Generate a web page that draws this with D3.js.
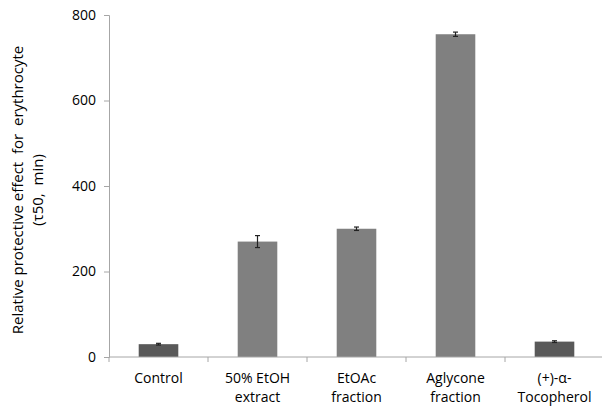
<!DOCTYPE html>
<html><head><meta charset="utf-8">
<script src="https://cdn.jsdelivr.net/npm/d3@7"></script>
<style>body{margin:0;background:#fff}svg{display:block}text{font-family:"Open Sans",sans-serif;fill:#000}</style>
</head><body><svg id="c" width="602" height="407"></svg>
<script>
const categories = [["Control"],["50% EtOH","extract"],["EtOAc","fraction"],["Aglycone","fraction"],["(+)-α-","Tocopherol"]];
const values = [30, 270, 300, 755, 36];
const errors = [2, 14, 4, 5, 2];
const barColors = ["#595959","#808080","#808080","#808080","#595959"];
const yTicks = [0,200,400,600,800];

const svg = d3.select("#c");
const x = d3.scaleBand().domain(d3.range(categories.length)).range([109, 604]).paddingInner(0.6).paddingOuter(0.3);
const y = d3.scaleLinear().domain([0,800]).range([357,15]);

// y axis
const ya = svg.append("g").attr("transform","translate(109,0)")
  .call(d3.axisLeft(y).tickValues(yTicks).tickSize(5).tickPadding(8));
ya.select(".domain").attr("stroke","#a6a6a6");
ya.selectAll(".tick line").attr("stroke","#a6a6a6");
ya.selectAll("text").attr("font-size",14).attr("fill","#000").attr("font-family","Open Sans");

// bars
svg.selectAll("rect.bar").data(values).enter().append("rect")
  .attr("x",(d,i)=>x(i)).attr("width",x.bandwidth())
  .attr("y",d=>y(d)).attr("height",d=>y(0)-y(d))
  .attr("fill",(d,i)=>barColors[i]);

// error bars
const eb = svg.selectAll("g.err").data(values).enter().append("g");
eb.append("line").attr("x1",(d,i)=>x(i)+x.bandwidth()/2).attr("x2",(d,i)=>x(i)+x.bandwidth()/2)
  .attr("y1",(d,i)=>y(d+errors[i])).attr("y2",(d,i)=>y(d-errors[i])).attr("stroke","#222").attr("stroke-width",1.2);
[1,-1].forEach(s=>{
  eb.append("line").attr("x1",(d,i)=>x(i)+x.bandwidth()/2-2.5).attr("x2",(d,i)=>x(i)+x.bandwidth()/2+2.5)
    .attr("y1",(d,i)=>y(d+s*errors[i])).attr("y2",(d,i)=>y(d+s*errors[i])).attr("stroke","#222").attr("stroke-width",1.2);
});

// x axis
const band = (604-109)/categories.length;
const xa = svg.append("g").attr("transform","translate(0,357)");
xa.append("line").attr("x1",109).attr("x2",604).attr("stroke","#a6a6a6");
d3.range(categories.length+1).forEach(i=>{
  xa.append("line").attr("x1",109+i*band).attr("x2",109+i*band).attr("y1",0).attr("y2",5).attr("stroke","#a6a6a6");
});
categories.forEach((lines,i)=>{
  const t = svg.append("text").attr("text-anchor","middle").attr("font-size",14)
    .attr("x", x(i)+x.bandwidth()/2).attr("y",383);
  lines.forEach((l,j)=>t.append("tspan").attr("x",x(i)+x.bandwidth()/2).attr("dy",j?19:0).text(l));
});

// y label
const yl = svg.append("text").attr("text-anchor","middle").attr("font-size",15)
  .attr("transform","translate(23,190) rotate(-90)");
yl.append("tspan").attr("x",0).attr("dy",0).attr("xml:space","preserve").text("Relative protective effect  for  erythrocyte");
yl.append("tspan").attr("x",0).attr("dy",20).attr("xml:space","preserve").text("(τ50,  min)");
</script></body></html>
